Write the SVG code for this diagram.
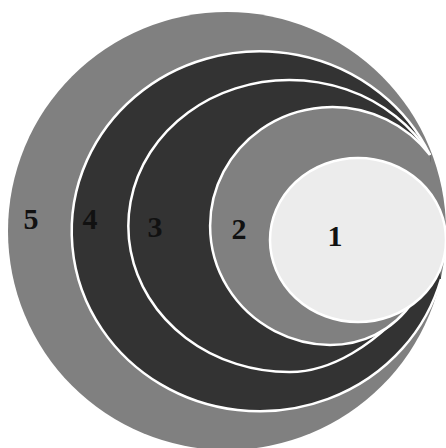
<svg xmlns="http://www.w3.org/2000/svg" width="446" height="448" viewBox="0 0 446 448">
  <style>
    .gray { fill: #808080; }
    .dark { fill: #333333; }
    .light { fill: #ececec; }
    .outline { fill: none; stroke: #ffffff; stroke-width: 2.5; }
    .label { font-family: "Liberation Serif", "Times New Roman", serif; font-weight: bold; font-size: 30px; fill: #111111; text-anchor: middle; }
  </style>
  <rect width="446" height="448" fill="#ffffff"/>
  <g id="node5">
    <circle class="gray" cx="227" cy="231" r="219"/>
    <text class="label" x="31" y="229">5</text>
  </g>
  <g id="node4">
    <path class="dark" d="M430,155 A188,180 0 1 0 441,279 L436,240 Z"/>
    <path class="outline" d="M430,155 A188,180 0 1 0 441,279"/>
    <text class="label" x="90" y="229">4</text>
  </g>
  <g id="node3">
    <path class="dark" d="M430,155 A161,146 0 1 0 290,372 C325,372 375,352 428,282 L436,240 Z"/>
    <path class="outline" d="M430,155 A161,146 0 1 0 290,372 C325,372 375,352 428,282"/>
    <text class="label" x="155" y="237">3</text>
  </g>
  <g id="node2">
    <path class="gray" d="M430,155 A122,119 0 1 0 330,345 C360,345 392,333 414,300 L441,240 Z"/>
    <path class="outline" d="M430,155 A122,119 0 1 0 330,345 C360,345 392,333 414,300"/>
    <text class="label" x="239" y="239">2</text>
  </g>
  <g id="node1">
    <ellipse class="light" cx="358" cy="240" rx="88" ry="82" stroke="#ffffff" stroke-width="2.5"/>
    <text class="label" x="335" y="246">1</text>
  </g>
  <g id="connectors"/>
</svg>
